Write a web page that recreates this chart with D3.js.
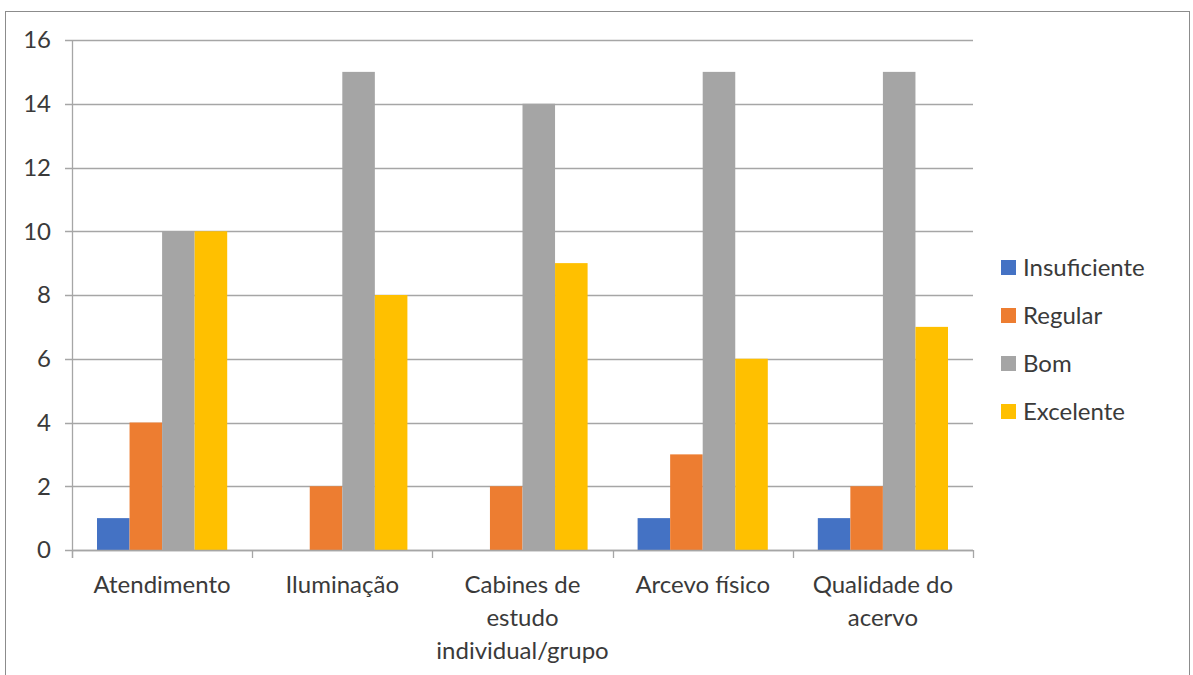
<!DOCTYPE html>
<html><head><meta charset="utf-8">
<script src="https://cdn.jsdelivr.net/npm/d3@7"></script>
<style>body{margin:0;background:#fff;} text{font-family:Lato, "Open Sans", sans-serif;fill:#3a3a3a;}</style>
</head><body>
<svg id="c" width="1193" height="675"></svg>
<script>
const categories = ["Atendimento","Iluminação","Cabines de estudo individual/grupo","Arcevo físico","Qualidade do acervo"];
const categoryLines = [["Atendimento"],["Iluminação"],["Cabines de","estudo","individual/grupo"],["Arcevo físico"],["Qualidade do","acervo"]];
const seriesNames = ["Insuficiente","Regular","Bom","Excelente"];
const insuficiente = [1,0,0,1,1];
const regular = [4,2,2,3,2];
const bom = [10,15,14,15,15];
const excelente = [10,8,9,6,7];
const yTicks = [0,2,4,6,8,10,12,14,16];
const colors = ["#4472C4","#ED7D31","#A5A5A5","#FFC000"];
const seriesValues = [insuficiente, regular, bom, excelente];

(function(){
const svg = d3.select("#c");
svg.append("rect").attr("x",5.5).attr("y",11.5).attr("width",1184).attr("height",680).attr("fill","none").attr("stroke","#8c8c8c").attr("stroke-width",1);

const pL=72, pR=973, pT=40, pB=550;
const fs = 24;
const x0 = d3.scaleBand().domain(categories).range([pL,pR]).padding(0);
const gap = 25;
const x1 = d3.scaleBand().domain(seriesNames).range([gap, x0.bandwidth()-gap]).padding(0);
const y = d3.scaleLinear().domain([0,16]).range([pB,pT]);

svg.append("g").selectAll("line").data(yTicks).join("line")
  .attr("x1",pL-7).attr("x2",pR).attr("y1",d=>Math.round(y(d))+0.5).attr("y2",d=>Math.round(y(d))+0.5)
  .attr("stroke","#a6a6a6").attr("stroke-width",1.3);
svg.append("g").selectAll("text").data(yTicks).join("text")
  .attr("x",51).attr("y",d=>y(d)).attr("dy","0.35em").attr("text-anchor","end").attr("font-size",fs).text(d=>d);

const g = svg.append("g");
categories.forEach((c,i)=>{
  seriesNames.forEach((s,j)=>{
    const v = seriesValues[j][i];
    if(v<=0) return;
    g.append("rect").attr("x",x0(c)+x1(s)).attr("width",x1.bandwidth()).attr("y",y(v)).attr("height",y(0)-y(v)).attr("fill",colors[j]);
  });
});

svg.append("line").attr("x1",pL+0.5).attr("x2",pL+0.5).attr("y1",pT).attr("y2",pB+8).attr("stroke","#a6a6a6").attr("stroke-width",1.3);
svg.append("line").attr("x1",pL).attr("x2",pR).attr("y1",pB+0.5).attr("y2",pB+0.5).attr("stroke","#a6a6a6").attr("stroke-width",1.3);
const bounds = categories.map(c=>x0(c)).concat([pR]);
svg.append("g").selectAll("line").data(bounds).join("line")
  .attr("x1",d=>Math.round(d)+0.5).attr("x2",d=>Math.round(d)+0.5).attr("y1",pB).attr("y2",pB+8).attr("stroke","#a6a6a6").attr("stroke-width",1.3);

categories.forEach((c,i)=>{
  const cx = x0(c)+x0.bandwidth()/2;
  const t = svg.append("text").attr("x",cx).attr("y",593).attr("text-anchor","middle").attr("font-size",fs);
  categoryLines[i].forEach((ln,k)=>{
    t.append("tspan").attr("x",cx).attr("y",593+k*33).text(ln);
  });
});

seriesNames.forEach((s,j)=>{
  const yy = 267 + j*48;
  svg.append("rect").attr("x",1001).attr("y",yy-7).attr("width",15).attr("height",15).attr("fill",colors[j]);
  svg.append("text").attr("x",1023).attr("y",yy+1).attr("dy","0.35em").attr("font-size",fs).text(s);
});
})();
</script>
</body></html>
